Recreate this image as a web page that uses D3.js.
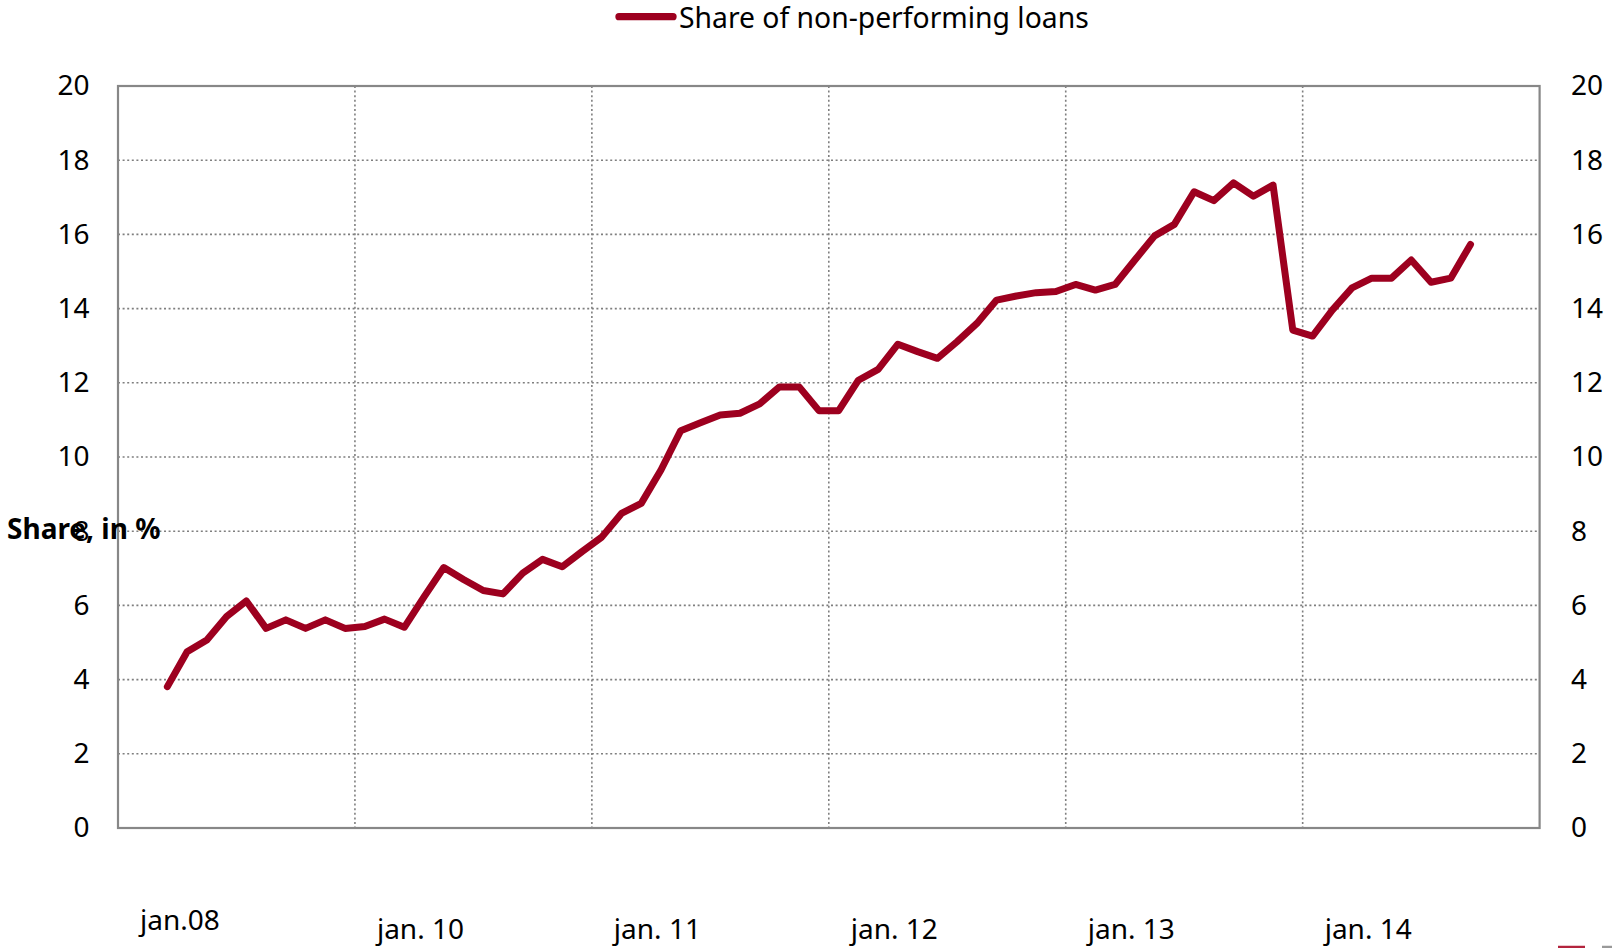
<html>
<head>
<script src="https://d3js.org/d3.v7.min.js"></script>
<style>
  body { margin: 0; background: #fff; }
  text { font-family: "Noto Sans", sans-serif; fill: #000; }
  .grid line { stroke: #7f7f7f; stroke-width: 1.6; stroke-dasharray: 2, 2.6; }
  .frame { fill: none; stroke: #878787; stroke-width: 2.2; }
</style>
</head>
<body>
<svg id="chart" width="1614" height="948"></svg>
<script>
// share of non-performing loans, monthly, Mar 2009 - Sep 2014 (in %)
const npl = [
  3.81, 4.75, 5.07, 5.70, 6.12, 5.38, 5.61, 5.38, 5.61, 5.38,
  5.43, 5.63, 5.41, 6.23, 7.02, 6.70, 6.40, 6.31, 6.87, 7.24,
  7.04, 7.45, 7.84, 8.48, 8.75, 9.65, 10.71, 10.92, 11.13, 11.18,
  11.43, 11.89, 11.89, 11.25, 11.25, 12.07, 12.36, 13.04, 12.84, 12.66,
  13.11, 13.60, 14.23, 14.34, 14.43, 14.46, 14.65, 14.50, 14.65, 15.31,
  15.96, 16.27, 17.15, 16.91, 17.39, 17.03, 17.33, 13.42, 13.26, 13.96,
  14.56, 14.82, 14.82, 15.31, 14.71, 14.82, 15.73
];
const months = d3.timeMonth.range(new Date(2009, 2, 1), new Date(2014, 9, 1));
const axisMonths = d3.timeMonth.range(new Date(2009, 0, 1), new Date(2015, 0, 1));
const yearStarts = d3.timeYear.range(new Date(2009, 0, 1), new Date(2015, 0, 1));
const xLabels = ["jan.08", "jan. 10", "jan. 11", "jan. 12", "jan. 13", "jan. 14"];
const yTicks = [0, 2, 4, 6, 8, 10, 12, 14, 16, 18, 20];
const seriesName = "Share of non-performing loans";
const yTitle = "Share, in %";

const svg = d3.select("#chart");
const margin = {top: 86, right: 74.4, bottom: 120, left: 118};
const width = +svg.attr("width");
const height = +svg.attr("height");
const red = "#9d001f";

const data = months.map((m, i) => ({date: m, value: npl[i]}));

const x = d3.scaleBand()
  .domain(axisMonths)
  .range([margin.left, width - margin.right])
  .paddingInner(0).paddingOuter(0);
const y = d3.scaleLinear().domain([0, 20]).range([height - margin.bottom, margin.top]);

// gridlines
const grid = svg.append("g").attr("class", "grid");
grid.selectAll("line.h").data(yTicks.filter(d => d > 0 && d < 20))
  .join("line").attr("class", "h")
  .attr("x1", margin.left).attr("x2", width - margin.right)
  .attr("y1", d => y(d)).attr("y2", d => y(d));
grid.selectAll("line.v").data(yearStarts.slice(1))
  .join("line").attr("class", "v")
  .attr("x1", d => x(d)).attr("x2", d => x(d))
  .attr("y1", margin.top).attr("y2", height - margin.bottom);

svg.append("rect").attr("class", "frame")
  .attr("x", margin.left).attr("y", margin.top)
  .attr("width", width - margin.left - margin.right)
  .attr("height", height - margin.top - margin.bottom);

// y axes on both sides
const yLeft = svg.append("g")
  .attr("transform", "translate(" + margin.left + ",0)")
  .call(d3.axisLeft(y).tickValues(yTicks).tickSize(0).tickPadding(28.5));
const yRight = svg.append("g")
  .attr("transform", "translate(" + (width - margin.right) + ",0)")
  .call(d3.axisRight(y).tickValues(yTicks).tickSize(0).tickPadding(31.5));
[yLeft, yRight].forEach(g => {
  g.select(".domain").remove();
  g.selectAll("text").style("font-size", "28px").attr("fill", "#000").style("font-family", "'Noto Sans', sans-serif");
});

// x labels (sit right of each year line)
svg.append("g").selectAll("text").data(yearStarts)
  .join("text")
  .attr("x", d => x(d) + 22)
  .attr("y", (d, i) => i === 0 ? 929.5 : 938.5)
  .style("font-size", "28px")
  .text((d, i) => xLabels[i]);

// series line
const line = d3.line()
  .x(d => x(d.date) + x.bandwidth() / 2)
  .y(d => y(d.value));
svg.append("path").datum(data)
  .attr("fill", "none")
  .attr("stroke", red)
  .attr("stroke-width", 7)
  .attr("stroke-linejoin", "round")
  .attr("stroke-linecap", "round")
  .attr("d", line);

// y title
svg.append("text")
  .attr("x", 7).attr("y", 539)
  .style("font-size", "28px").style("font-weight", "bold")
  .text(yTitle);

// legend
const legend = svg.append("g");
legend.append("line")
  .attr("x1", 619).attr("x2", 673).attr("y1", 16.7).attr("y2", 16.7)
  .attr("stroke", red).attr("stroke-width", 7.3).attr("stroke-linecap", "round");
legend.append("text")
  .attr("x", 679).attr("y", 27.5)
  .style("font-size", "28.3px")
  .text(seriesName);

// cut-off legend remnants at the bottom edge
svg.append("line").attr("x1", 1558).attr("x2", 1585).attr("y1", 947).attr("y2", 947)
  .attr("stroke", "#b3243d").attr("stroke-width", 2.5);
svg.append("line").attr("x1", 1602).attr("x2", 1612).attr("y1", 947).attr("y2", 947)
  .attr("stroke", "#999").attr("stroke-width", 2.5);
</script>
</body>
</html>
